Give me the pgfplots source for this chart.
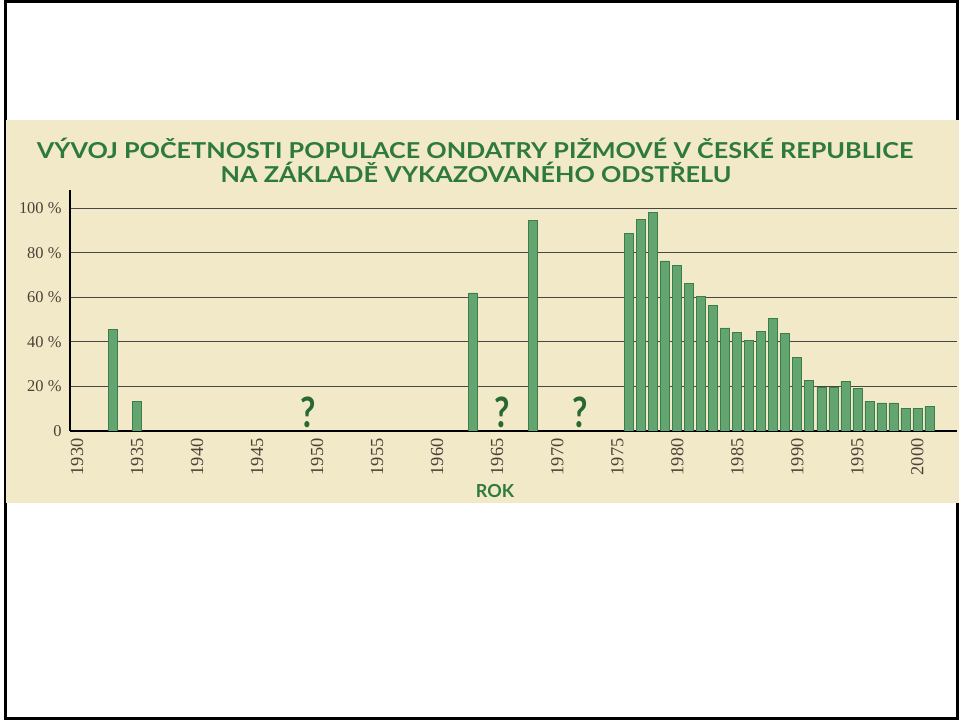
\documentclass[border=0pt]{standalone}
\usepackage{fontspec}
\setmainfont{Liberation Serif}
\newfontfamily\titlefont{Lato}
\usepackage{graphicx}
\usepackage{pgfplots}
\pgfplotsset{compat=1.18}
\definecolor{beige}{HTML}{F2E9C8}
\definecolor{bargreen}{HTML}{62A571}
\definecolor{baredge}{HTML}{3F7B4B}
\definecolor{tgreen}{HTML}{2E7A3C}
\definecolor{ticktext}{HTML}{4A4238}
\pgfplotstableread{
year value
1933 45.5
1935 13.4
1963 62.0
1968 94.4
1976 88.8
1977 95.0
1978 98.3
1979 76.4
1980 74.4
1981 66.4
1982 60.4
1983 56.5
1984 46.3
1985 44.2
1986 40.5
1987 44.8
1988 50.6
1989 43.9
1990 33.0
1991 22.7
1992 19.6
1993 19.6
1994 22.3
1995 19.1
1996 13.4
1997 12.6
1998 12.6
1999 10.2
2000 10.2
2001 11.0
}\datatable
\begin{document}
\begin{tikzpicture}[x=1bp,y=1bp]
\useasboundingbox (0,0) rectangle (959,720);
\fill[white] (0,0) rectangle (959,720);
\draw[black, line width=3bp] (5,1.5) rectangle (957.5,718.5);
\fill[beige] (6,217) rectangle (959,600);
\node[font=\titlefont\bfseries\fontsize{22}{24}\selectfont, text=tgreen] at (475,572) {\scalebox{1.15}[1]{VÝVOJ POČETNOSTI POPULACE ONDATRY PIŽMOVÉ V ČESKÉ REPUBLICE}};
\node[font=\titlefont\bfseries\fontsize{22}{24}\selectfont, text=tgreen] at (476,548) {\scalebox{1.15}[1]{NA ZÁKLADĚ VYKAZOVANÉHO ODSTŘELU}};
\node[font=\titlefont\bfseries\fontsize{18}{18}\selectfont, text=tgreen] at (495,228.5) {ROK};
\begin{axis}[
  at={(70bp,289bp)}, anchor=south west,
  scale only axis, width=887bp, height=240.5bp,
  xmin=1929.42, xmax=2003.3, ymin=0, ymax=108,
  axis lines=left,
  axis line style={-, line width=1.6bp, black},
  major tick length=0pt,
  ytick={0,20,40,60,80,100},
  yticklabels={0,20 \%,40 \%,60 \%,80 \%,100 \%},
  xtick={1930,1935,...,2000},
  /pgf/number format/assume math mode=true,
  xticklabel={\pgfmathprintnumber[1000 sep={}]{\tick}},
  xticklabel style={rotate=90, anchor=east, font=\fontsize{18.5}{18.5}\selectfont, text=ticktext},
  yticklabel style={font=\fontsize{16.5}{16.5}\selectfont, text=ticktext},
  xticklabel shift=4bp,
  yticklabel shift=5bp,
  ymajorgrids,
  grid style={line width=1bp, color=black!72},
]
\addplot[ybar, bar width=9bp, fill=bargreen, draw=baredge, line width=0.7bp] table[x=year, y=value] {\datatable};
\node[font=\titlefont\bfseries\fontsize{42}{42}\selectfont, text=tgreen!85!black, anchor=south, inner sep=0pt] at (axis cs:1949.3,1.2) {\scalebox{0.8}[1]{?}};
\node[font=\titlefont\bfseries\fontsize{42}{42}\selectfont, text=tgreen!85!black, anchor=south, inner sep=0pt] at (axis cs:1965.4,1.2) {\scalebox{0.8}[1]{?}};
\node[font=\titlefont\bfseries\fontsize{42}{42}\selectfont, text=tgreen!85!black, anchor=south, inner sep=0pt] at (axis cs:1971.9,1.2) {\scalebox{0.8}[1]{?}};
\end{axis}
\end{tikzpicture}
\end{document}
